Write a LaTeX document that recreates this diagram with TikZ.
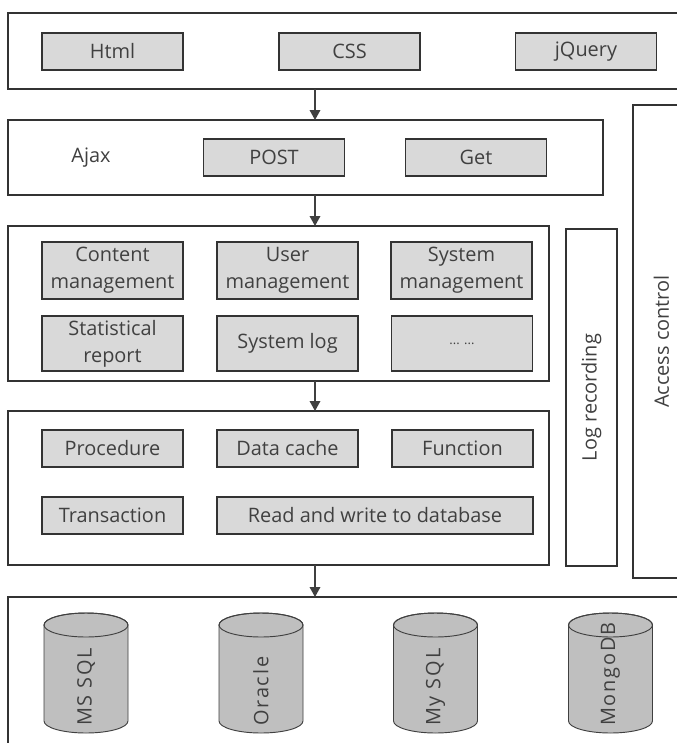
\documentclass[tikz,border=0pt]{standalone}
\usepackage{fontspec}
\setmainfont{Open Sans}
\usetikzlibrary{arrows.meta}

\begin{document}
\begin{tikzpicture}[
  x=0.03cm, y=-0.03cm,
  font=\fontsize{17}{23}\selectfont,
  layer/.style={
    draw=black!80, line width=1.2pt, fill=white,
    inner sep=0pt, outer sep=0pt, anchor=north west
  },
  module/.style={
    draw=black!80, line width=1.1pt, fill=gray!30, text=black!75,
    align=center, minimum width=4.23cm, minimum height=1.11cm,
    inner sep=0pt, outer sep=0pt
  },
  tag/.style={text=black!75, inner sep=0pt},
  flow/.style={
    -{Triangle[length=3mm, width=3.2mm]},
    draw=black!75, line width=1.1pt
  }
]
\tikzset{
  pics/dbcyl/.style={
    code={
      \filldraw[draw=black!75, line width=0.8pt, fill=gray!50]
        (-42,12) -- (-42,108)
        arc[start angle=180, end angle=360, x radius=1.26cm, y radius=0.36cm]
        -- (42,12)
        arc[start angle=0, end angle=180, x radius=1.26cm, y radius=0.36cm] -- cycle;
      \draw[draw=black!75, line width=0.8pt] (0,12) ellipse[x radius=1.26cm, y radius=0.36cm];
      \node[tag, rotate=90, anchor=west, font=\fontsize{17}{20}\selectfont\addfontfeatures{LetterSpace=9}]
        (-nom) at (0,113) {#1};
    }
  }
}
\useasboundingbox (0,0) rectangle (677,743);

% ----- couches -----
\node[layer, minimum width=20.46cm, minimum height=2.28cm] (front) at (8,13) {};
\node[layer, minimum width=17.85cm, minimum height=2.25cm] (ajax) at (8,120) {};
\node[layer, minimum width=1.71cm, minimum height=14.19cm] (access) at (633,105) {};
\node[layer, minimum width=16.23cm, minimum height=4.65cm] (logic) at (8,226) {};
\node[layer, minimum width=16.23cm, minimum height=4.62cm] (data) at (8,411) {};
\node[layer, minimum width=1.53cm, minimum height=10.11cm] (log) at (566,229) {};
\node[layer, minimum width=20.46cm, minimum height=4.89cm] (store) at (8,597) {};

\node[tag, rotate=90] (accesstxt) at (access.center) {Access control};
\node[tag, rotate=90] (logtxt) at (log.center) {Log recording};

% ----- front -----
\node[module] (html)   at (112.5,51.5) {Html};
\node[module] (css)    at (349.5,51.5) {CSS};
\node[module] (jquery) at (586,51.5)   {jQuery};

% ----- ajax -----
\node[tag] (ajaxtxt) at (91,157.5) {Ajax};
\node[module] (post) at (274,157.5) {POST};
\node[module] (get)  at (476,157.5) {Get};

% ----- business -----
\node[module, minimum height=1.71cm] (content) at (112.5,270.5) {Content\\management};
\node[module, minimum height=1.71cm] (user)    at (287.5,270.5) {User\\management};
\node[module, minimum height=1.71cm] (system)  at (461.5,270.5) {System\\management};
\node[module, minimum height=1.65cm] (report)  at (112.5,343.5) {Statistical\\report};
\node[module, minimum height=1.65cm] (syslog)  at (287.5,343.5) {System log};
\node[module, minimum height=1.65cm] (more)    at (462,343.5)   {\fontsize{11}{12}\selectfont ... ...};

% ----- data access -----
\node[module] (proc)     at (112.5,448.5) {Procedure};
\node[module] (cache)    at (287.5,448.5) {Data cache};
\node[module] (func)     at (462.5,448.5) {Function};
\node[module] (trans)    at (112.5,515.5) {Transaction};
\node[module, minimum width=9.48cm] (readwrite) at (375,515.5) {Read and write to database};

% ----- bases -----
\pic (mssql)  at (86,613)    {dbcyl=MS SQL};
\pic (oracle) at (261,613)   {dbcyl=Oracle};
\pic (mysql)  at (435.5,613) {dbcyl=My SQL};
\pic (mongo)  at (610.5,613) {dbcyl=MongoDB};

% ----- fleches -----
\coordinate (axe) at (315,0);
\draw[flow] (front.south -| axe) -- (ajax.north -| axe);
\draw[flow] (ajax.south -| axe) -- (logic.north -| axe);
\draw[flow] (logic.south -| axe) -- (data.north -| axe);
\draw[flow] (data.south -| axe) -- (store.north -| axe);

\end{tikzpicture}
\end{document}
